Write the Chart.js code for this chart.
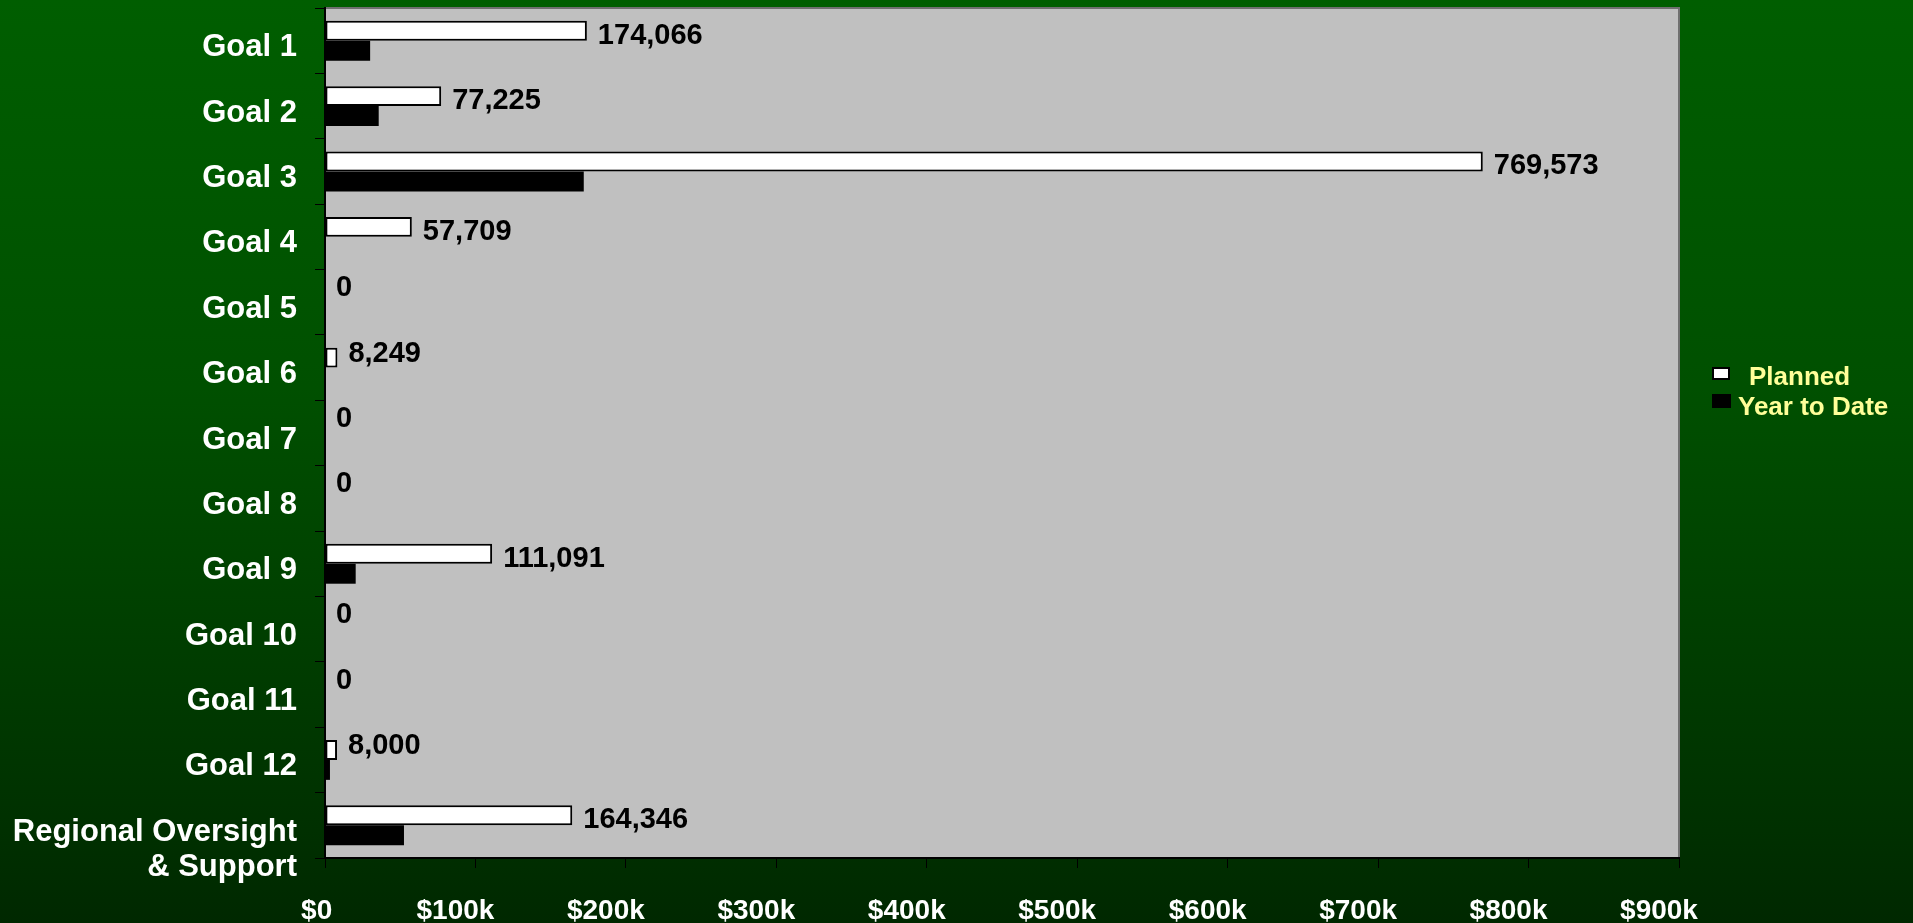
<!DOCTYPE html>
<html>
<head>
<meta charset="utf-8">
<title>Planned vs Year to Date by Goal</title>
<script src="https://cdn.jsdelivr.net/npm/chart.js@4.4.1/dist/chart.umd.min.js"></script>
<style>
  html, body { margin: 0; padding: 0; }
  body {
    width: 1913px; height: 923px; overflow: hidden;
    background: linear-gradient(to bottom, #005e00 0%, #005000 42%, #003000 90%, #002800 100%);
    font-family: "Liberation Sans", Arial, sans-serif;
  }
  #wrap { position: relative; width: 1913px; height: 923px; }
  #legend { position: absolute; left: 0; top: 0; }
  .lg-box { position: absolute; box-sizing: border-box; }
  .lg-text { position: absolute; font-size: 26px; line-height: 26px; font-weight: bold; color: #ffff99; white-space: nowrap; }
</style>
</head>
<body>
<div id="wrap">
  <canvas id="goalChart" width="1913" height="923"></canvas>
  <div id="legend">
    <div class="lg-box" style="left:1712px;top:367px;width:18px;height:13px;background:#fff;border:2px solid #000;"></div>
    <div class="lg-text" style="left:1749px;top:363px;">Planned</div>
    <div class="lg-box" style="left:1712px;top:394px;width:19px;height:14px;background:#000;"></div>
    <div class="lg-text" style="left:1738px;top:393px;">Year to Date</div>
  </div>
</div>
<script>
// chart data
const categories = ['Goal 1', 'Goal 2', 'Goal 3', 'Goal 4', 'Goal 5', 'Goal 6', 'Goal 7',
    'Goal 8', 'Goal 9', 'Goal 10', 'Goal 11', 'Goal 12', ['Regional Oversight', '& Support']];
const planned = [174066, 77225, 769573, 57709, 0, 8249, 0, 0, 111091, 0, 0, 8000, 164346];
const yearToDate = [30000, 35700, 172000, 0, 0, 0, 0, 0, 20400, 0, 0, 3300, 52500];
const xTicks = [0, 100000, 200000, 300000, 400000, 500000, 600000, 700000, 800000, 900000];

const FONT = '"Liberation Sans", Arial, sans-serif';

// grey plot background with thin border
const plotBackground = {
    id: 'plotBackground',
    beforeDraw(chart) {
        const { ctx, chartArea: a } = chart;
        ctx.save();
        ctx.fillStyle = '#c0c0c0';
        ctx.fillRect(a.left, a.top, a.right - a.left, a.bottom - a.top);
        ctx.strokeStyle = '#707070';
        ctx.lineWidth = 2;
        ctx.beginPath();
        ctx.moveTo(a.left, a.top);
        ctx.lineTo(a.right, a.top);
        ctx.lineTo(a.right, a.bottom);
        ctx.stroke();
        ctx.restore();
    }
};

// value labels after the planned bars
const plannedLabels = {
    id: 'plannedLabels',
    afterDatasetsDraw(chart) {
        const ctx = chart.ctx;
        const meta = chart.getDatasetMeta(0);
        ctx.save();
        ctx.font = 'bold 29px ' + FONT;
        ctx.fillStyle = '#000';
        ctx.textAlign = 'left';
        ctx.textBaseline = 'middle';
        meta.data.forEach(function(bar, i) {
            // labels on very short bars sit a little higher, as in the original
            const dy = (bar.x - bar.base) < 20 ? -4 : 5;
            ctx.fillText(planned[i].toLocaleString('en-US'), bar.x + 11, bar.y + dy);
        });
        ctx.restore();
    }
};

const ctx = document.getElementById('goalChart').getContext('2d');
new Chart(ctx, {
    type: 'bar',
    data: {
        labels: categories,
        datasets: [{
            label: 'Planned',
            data: planned,
            backgroundColor: '#ffffff',
            borderColor: '#000000',
            borderWidth: 2,
            borderSkipped: false,
            categoryPercentage: 0.61,
            barPercentage: 1.0
        }, {
            label: 'Year to Date',
            data: yearToDate,
            backgroundColor: '#000000',
            borderWidth: 0,
            categoryPercentage: 0.61,
            barPercentage: 1.0
        }]
    },
    options: {
        indexAxis: 'y',
        responsive: false,
        animation: false,
        layout: { padding: { top: 8, right: 234, left: 0, bottom: 0 } },
        plugins: {
            legend: { display: false },
            tooltip: { enabled: false }
        },
        scales: {
            x: {
                min: 0,
                max: 900000,
                afterBuildTicks: function(scale) {
                    scale.ticks = xTicks.map(v => ({ value: v }));
                },
                afterFit: function(scale) {
                    scale.height = 65;
                    scale.paddingLeft = 0;
                    scale.paddingRight = 0;
                },
                border: { color: '#000', width: 2 },
                grid: { drawOnChartArea: false, drawTicks: true, tickLength: 10, color: '#000' },
                ticks: {
                    color: '#ffffff',
                    font: { family: FONT, size: 28, weight: 'bold' },
                    padding: 26,
                    labelOffset: -20,
                    maxRotation: 0,
                    autoSkip: false,
                    callback: function(v) { return v === 0 ? '   $0' : '$' + (v / 1000) + 'k'; }
                }
            },
            y: {
                afterFit: function(scale) {
                    scale.width = 325;
                    scale.paddingTop = 0;
                    scale.paddingBottom = 0;
                },
                border: { color: '#000', width: 2 },
                grid: { drawOnChartArea: false, drawTicks: true, tickLength: 10, color: '#000', offset: true },
                ticks: {
                    color: '#ffffff',
                    font: { family: FONT, size: 31, weight: 'bold', lineHeight: 1.14 },
                    padding: 18,
                    labelOffset: 7,
                    autoSkip: false,
                    callback: function(v) {
                        const label = categories[v];
                        // two-line label sits lower in the original
                        return Array.isArray(label) ? [''].concat(label) : label;
                    }
                }
            }
        }
    },
    plugins: [plotBackground, plannedLabels]
});
</script>
</body>
</html>
